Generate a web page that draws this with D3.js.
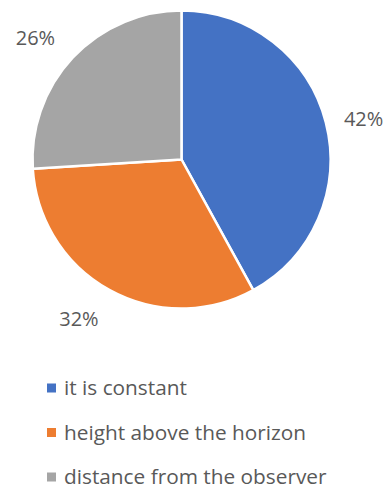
<!DOCTYPE html>
<html>
<head>
<meta charset="utf-8">
<script src="https://cdn.jsdelivr.net/npm/d3@7"></script>
<style>
  html, body { margin: 0; padding: 0; background: #fff; }
  svg { display: block; }
  text { font-family: "Open Sans", Lato, sans-serif; fill: #595959; }
</style>
</head>
<body>
<svg id="chart" width="385" height="489"></svg>
<script>
// Answer shares (percent)
const categories = ["it is constant", "height above the horizon", "distance from the observer"];
const values = [42, 32, 26];
const colors = ["#4472C4", "#ED7D31", "#A5A5A5"];

const svg = d3.select("#chart");
const cx = 181.5, cy = 159.5, radius = 149;
// small per-label nudges so each percentage clears its slice edge
const labelNudge = [[0, 6], [-12, -6], [-9, 7]];

const pie = d3.pie().sort(null).value(d => d)(values);
const arc = d3.arc().innerRadius(0).outerRadius(radius);
const labelArc = d3.arc().innerRadius(radius + 39).outerRadius(radius + 39);

const g = svg.append("g").attr("transform", `translate(${cx},${cy})`);

g.selectAll("path.slice")
  .data(pie)
  .join("path")
  .attr("class", "slice")
  .attr("d", arc)
  .attr("fill", (d, i) => colors[i])
  .attr("stroke", "#fff")
  .attr("stroke-width", 2.5)
  .attr("stroke-linejoin", "round");

g.selectAll("text.pct")
  .data(pie)
  .join("text")
  .attr("class", "pct")
  .attr("transform", (d, i) => {
    const [x, y] = labelArc.centroid(d);
    return `translate(${x + labelNudge[i][0]},${y + labelNudge[i][1]})`;
  })
  .attr("text-anchor", "middle")
  .attr("dominant-baseline", "central")
  .style("font-size", "20px")
  .text(d => d.data + "%");

// Legend
const legend = svg.append("g").attr("transform", "translate(47,0)");
const legendY = d3.scalePoint().domain(categories).range([388, 477]);

const item = legend.selectAll("g.item")
  .data(categories)
  .join("g")
  .attr("class", "item")
  .attr("transform", d => `translate(0,${legendY(d)})`);

item.append("rect")
  .attr("x", 0).attr("y", -4.5)
  .attr("width", 9).attr("height", 9)
  .attr("fill", (d, i) => colors[i]);

item.append("text")
  .attr("x", 17)
  .attr("dy", "0.35em")
  .style("font-size", "20.8px")
  .text(d => d);
</script>
</body>
</html>
